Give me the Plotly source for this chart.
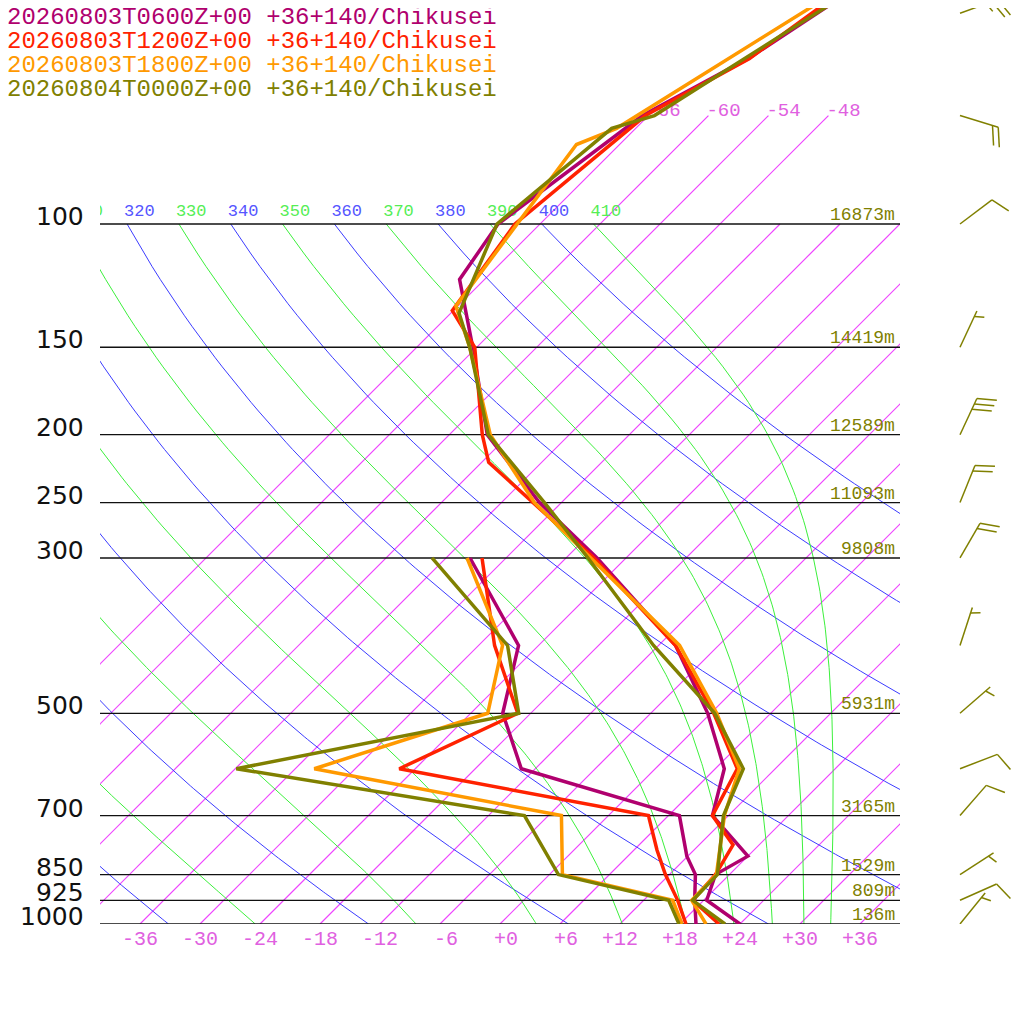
import numpy as np
import plotly.graph_objects as go

# ---- soundings: pressure (hPa), temperature / dewpoint (degC) ----
p_t_0600 = [1000, 925, 850, 800, 700, 600, 500, 400, 300, 250, 200, 150, 120, 100, 70, 58, 45]
t_0600 = [24.0, 18.3, 16.6, 18.0, 10.4, 6.9, -0.3, -10.3, -26.9, -38.2, -50.2, -60.4, -68.5, -70.2, -66.6, -61.7, -57.7]
p_td_0600 = [1000, 925, 850, 800, 700, 600, 500, 400, 300]
td_0600 = [19.6, 17.1, 14.6, 11.9, 7.1, -13.4, -20.8, -26.0, -39.6]

p_t_1200 = [1000, 925, 850, 771, 700, 600, 500, 400, 300, 250, 219, 200, 150, 133, 100, 70, 58, 45]
t_1200 = [21.9, 16.9, 16.6, 15.4, 10.4, 8.2, 0.3, -10.3, -27.2, -38.9, -47.3, -50.7, -60.2, -66.1, -68.5, -66.3, -61.6, -58.7]
p_td_1200 = [1000, 925, 850, 784, 700, 600, 500, 400, 300]
td_1200 = [18.6, 15.4, 11.6, 8.3, 4.0, -25.6, -19.3, -28.4, -38.4]

p_t_1800 = [1000, 925, 850, 700, 600, 500, 400, 300, 250, 200, 150, 131, 100, 77, 73, 45]
t_1800 = [20.6, 16.8, 16.7, 11.6, 8.4, 0.6, -9.9, -27.6, -38.7, -49.9, -60.7, -66.2, -68.3, -70.3, -67.9, -59.0]
p_td_1800 = [1000, 925, 850, 700, 600, 500, 400, 300]
td_1800 = [18.2, 14.9, 1.3, -4.7, -34.1, -22.3, -27.6, -39.9]

p_t_0000 = [1000, 925, 850, 700, 600, 500, 400, 300, 250, 200, 150, 134, 100, 73, 70, 45]
t_0000 = [22.5, 16.9, 16.8, 11.5, 8.8, 0.4, -12.5, -27.8, -37.7, -50.1, -60.7, -65.2, -70.3, -68.4, -65.4, -57.6]
p_td_0000 = [1000, 925, 850, 700, 600, 500, 400, 300]
td_0000 = [17.9, 14.5, 0.9, -8.4, -41.9, -19.2, -27.1, -43.4]

run_names = ["20260803T0600Z+00 +36+140/Chikusei",
             "20260803T1200Z+00 +36+140/Chikusei",
             "20260803T1800Z+00 +36+140/Chikusei",
             "20260804T0000Z+00 +36+140/Chikusei"]
run_colors = ["#b0006e", "#ff2200", "#ff9900", "#808000"]

# isobars and heights of the last run
isobars = [100, 150, 200, 250, 300, 500, 700, 850, 925, 1000]
heights = [16873, 14419, 12589, 11093, 9808, 5931, 3165, 1529, 809, 136]

# winds of the last run (direction deg, speed kt)
wind_p = [1000, 925, 850, 700, 600, 500, 400, 300, 250, 200, 150, 100, 70, 50]
wind_dir = [39, 66, 57, 41, 69, 49, 18, 30, 22, 25, 25, 53, 107, 70]
wind_spd = [5, 10, 5, 10, 10, 5, 5, 20, 20, 30, 5, 10, 20, 25]

temp_ticks = list(range(-36, 37, 6))
isotherms = list(range(-66, 37, 6))
thetas = list(range(240, 411, 10))

SKEW = 70.0          # x shift (degC) per decade of pressure
PX_DECADE = 700.0    # pixels per pressure decade
RD, CP, LV, EPS = 287.04, 1005.7, 2.501e6, 0.622
KAPPA = RD / CP

# page has an 8px body margin: figure pixel = page pixel - OFF
OFF = 8
W, H = 1016, 1008
MONO = "Liberation Mono"


def px(x):
    return (x - OFF) / W


def py(y):
    return 1 - (y - OFF) / H


def skew_x(t, p):
    return np.asarray(t, float) + SKEW * np.log10(1000.0 / np.asarray(p, float))


def dtdp(t, p):
    es = 6.112 * np.exp(17.67 * (t - 273.15) / (t - 29.65))
    rs = EPS * es / (p - es)
    return (RD * t + LV * rs) / (p * (CP + LV * LV * rs * EPS / (RD * t * t)))


def moist_adiabat(theta, p):
    t = [theta * (p[0] / 1000.0) ** KAPPA]
    for i in range(1, len(p)):
        h = p[i] - p[i - 1]
        tt, pp = t[-1], p[i - 1]
        k1 = dtdp(tt, pp)
        k2 = dtdp(tt + h * k1 / 2, pp + h / 2)
        k3 = dtdp(tt + h * k2 / 2, pp + h / 2)
        k4 = dtdp(tt + h * k3, pp + h)
        t.append(tt + h * (k1 + 2 * k2 + 2 * k3 + k4) / 6)
    return np.array(t) - 273.15


def multi_line(xs_list, ys_list):
    xx, yy = [], []
    for xs, ys in zip(xs_list, ys_list):
        xx += [float(v) for v in xs] + [None]
        yy += [float(v) for v in ys] + [None]
    return xx, yy


fig = go.Figure()

# isotherms
iso_x, iso_y = multi_line(
    [skew_x([T, T], [1000.0, 70 if T <= -48 else 100]) for T in isotherms],
    [[1000.0, 70 if T <= -48 else 100] for T in isotherms])
fig.add_trace(go.Scatter(x=iso_x, y=iso_y, mode="lines",
                         line=dict(color="#ee44ff", width=1.2), hoverinfo="skip"))
iso_lab = [T for T in isotherms if T <= -48]
fig.add_trace(go.Scatter(x=skew_x(iso_lab, [70] * len(iso_lab)) - 0.2,
                         y=[70 * 10 ** (-4 / PX_DECADE)] * len(iso_lab),
                         mode="text", text=[str(T) for T in iso_lab], textposition="middle right",
                         textfont=dict(family=MONO, size=19, color="#e060e0"), hoverinfo="skip"))

# dry adiabats (blue) and pseudo-adiabats (green)
pgrid = np.linspace(100, 1000, 181)
dry_th = [th for th in thetas if (th // 10) % 2 == 0]
wet_th = [th for th in thetas if (th // 10) % 2 == 1]
dx, dy = multi_line([skew_x(th * (pgrid / 1000.0) ** KAPPA - 273.15, pgrid) for th in dry_th],
                    [pgrid] * len(dry_th))
wx, wy = multi_line([skew_x(moist_adiabat(th, pgrid), pgrid) for th in wet_th],
                    [pgrid] * len(wet_th))
fig.add_trace(go.Scatter(x=dx, y=dy, mode="lines", line=dict(color="#3c3cff", width=1), hoverinfo="skip"))
fig.add_trace(go.Scatter(x=wx, y=wy, mode="lines", line=dict(color="#3cf03c", width=1), hoverinfo="skip"))

lab_th = [th for th in thetas if skew_x(th * 0.1 ** KAPPA - 273.15, 100) > -44]
lab_x = [skew_x(th * 0.1 ** KAPPA - 273.15, 100) for th in lab_th]
lab_c = ["#5555ff" if (th // 10) % 2 == 0 else "#55ee55" for th in lab_th]
fig.add_trace(go.Scatter(x=np.array(lab_x) - 0.3, y=[100 * 10 ** (-12 / PX_DECADE)] * len(lab_th),
                         mode="text", text=[str(th) for th in lab_th], textposition="middle right",
                         textfont=dict(family=MONO, size=17, color=lab_c), hoverinfo="skip"))

# isobars
ix, iy = multi_line([[-40, 40]] * len(isobars), [[p, p] for p in isobars])
fig.add_trace(go.Scatter(x=ix, y=iy, mode="lines", line=dict(color="#111111", width=1.3), hoverinfo="skip"))

# soundings
soundings = [(p_t_0600, t_0600, p_td_0600, td_0600),
             (p_t_1200, t_1200, p_td_1200, td_1200),
             (p_t_1800, t_1800, p_td_1800, td_1800),
             (p_t_0000, t_0000, p_td_0000, td_0000)]
for (pt, tt, pd_, td), col, name in zip(soundings, run_colors, run_names):
    fig.add_trace(go.Scatter(x=skew_x(td, pd_), y=pd_, mode="lines", name=name,
                             line=dict(color=col, width=3.5)))
    fig.add_trace(go.Scatter(x=skew_x(tt, pt), y=pt, mode="lines", name=name,
                             line=dict(color=col, width=3.5)))

# wind barbs (x2 axis in page pixels, same log-pressure y axis)
SHAFT, FULL, HALF, GAP, XBASE = 40.0, 20.0, 10.0, 6.0, 960.0
bx, by = [], []


def add_seg(x0, u0, x1, u1, p0):
    bx.extend([x0, x1, None])
    by.extend([p0 * 10 ** (-u0 / PX_DECADE), p0 * 10 ** (-u1 / PX_DECADE), None])


for p, d, s in zip(wind_p, wind_dir, wind_spd):
    a = np.radians(d)
    ux, uy = np.sin(a), np.cos(a)
    fa = np.radians(d + 70)
    fx, fy = np.sin(fa), np.cos(fa)
    tipx, tipy = XBASE + SHAFT * ux, SHAFT * uy
    add_seg(XBASE, 0, tipx, tipy, p)
    nfull, nhalf = int(s // 10), int((s % 10) // 5)
    pos = 0
    for i in range(nfull):
        sx, sy = tipx - pos * GAP * ux, tipy - pos * GAP * uy
        add_seg(sx, sy, sx + FULL * fx, sy + FULL * fy, p)
        pos += 1
    if nhalf:
        if pos == 0:
            pos = 1
        sx, sy = tipx - pos * GAP * ux, tipy - pos * GAP * uy
        add_seg(sx, sy, sx + HALF * fx, sy + HALF * fy, p)
fig.add_trace(go.Scatter(x=bx, y=by, xaxis="x2", yaxis="y", mode="lines",
                         line=dict(color="#808000", width=1.5), hoverinfo="skip"))

# pressure and height labels
ann = []
for p, h in zip(isobars, heights):
    ann.append(dict(x=px(86), xref="paper", y=np.log10(p), yref="y", text=str(p),
                    xanchor="right", yanchor="bottom", yshift=-9, showarrow=False,
                    font=dict(family="DejaVu Sans", size=25, color="#111111")))
    ann.append(dict(x=px(897), xref="paper", y=np.log10(p), yref="y", text=f"{h}m",
                    xanchor="right", yanchor="bottom", yshift=-3, showarrow=False,
                    font=dict(family=MONO, size=18, color="#808000")))
for i, (name, col) in enumerate(zip(run_names, run_colors)):
    ann.append(dict(x=px(5), xref="paper", y=py(18 + 23.7 * i), yref="paper",
                    text=name, xanchor="left", yanchor="middle", showarrow=False,
                    font=dict(family=MONO, size=24, color=col)))

tick_text = [("\u00a0" if abs(v) < 10 else "") + (f"+{v}" if v >= 0 else str(v)) for v in temp_ticks]

fig.update_layout(
    width=W, height=H, margin=dict(l=0, r=0, t=0, b=0),
    paper_bgcolor="white", plot_bgcolor="white", showlegend=False,
    annotations=ann,
    xaxis=dict(domain=[px(100), px(900)], range=[-40, 40], showgrid=False, zeroline=False,
               showline=False, ticks="", tickvals=temp_ticks, ticktext=tick_text,
               tickfont=dict(family=MONO, size=20, color="#e060e0")),
    yaxis=dict(domain=[py(924), 1], type="log", range=[3, 3 - (924 - OFF) / PX_DECADE],
               showgrid=False, zeroline=False, showticklabels=False, showline=False),
    xaxis2=dict(domain=[px(900), 1], range=[900, 1024], anchor="y", visible=False),
)

fig.write_html("out.html")
